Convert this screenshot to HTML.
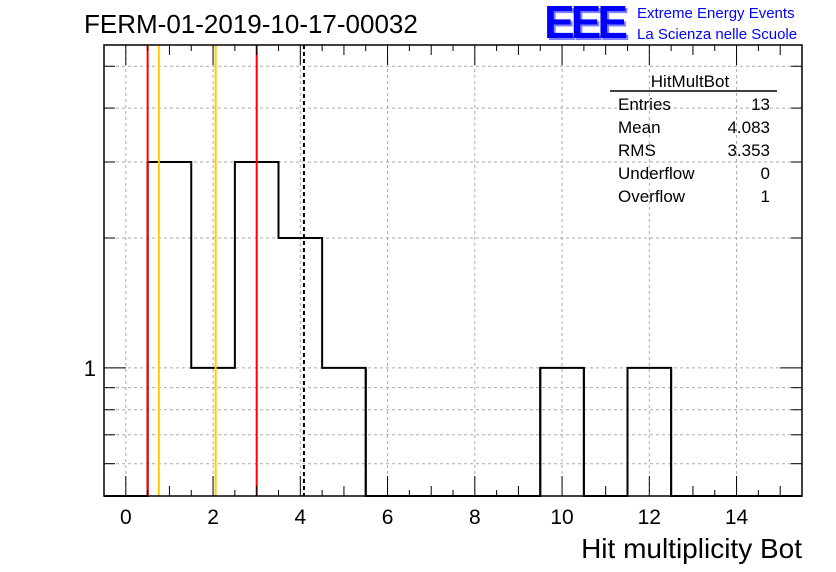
<!DOCTYPE html>
<html><head><meta charset="utf-8"><style>
body{margin:0;background:#fff;}
svg{display:block;font-family:"Liberation Sans",sans-serif;}
</style></head><body>
<svg width="836" height="572" viewBox="0 0 836 572">
<rect width="836" height="572" fill="#fff"/>
<text x="84" y="33" font-size="26">FERM-01-2019-10-17-00032</text>
<g>
<text x="546" y="40" font-size="46" font-weight="bold" fill="#8080ff" letter-spacing="-4">EEE</text>
<text x="544" y="38" font-size="46" font-weight="bold" fill="#0000ff" letter-spacing="-4">EEE</text>
<text x="637" y="18" font-size="15" fill="#0000ff">Extreme Energy Events</text>
<text x="637" y="39" font-size="15" fill="#0000ff">La Scienza nelle Scuole</text>
</g>
<g id="grid"></g>
<g id="marks"></g>
<g id="axes"></g>
<g font-size="17">
<text x="690" y="87" text-anchor="middle">HitMultBot</text>
<line x1="610" y1="91" x2="777" y2="91" stroke="#000" stroke-width="1.5"/>
<text x="618" y="110">Entries</text><text x="770" y="110" text-anchor="end">13</text>
<text x="618" y="133">Mean</text><text x="770" y="133" text-anchor="end">4.083</text>
<text x="618" y="156">RMS</text><text x="770" y="156" text-anchor="end">3.353</text>
<text x="618" y="179">Underflow</text><text x="770" y="179" text-anchor="end">0</text>
<text x="618" y="202">Overflow</text><text x="770" y="202" text-anchor="end">1</text>
</g>
<text x="802" y="558" font-size="28" text-anchor="end">Hit multiplicity Bot</text>
<script>
const binCenters=[0,1,2,3,4,5,6,7,8,9,10,11,12,13,14,15];
const counts=[0,3,1,3,2,1,0,0,0,0,1,0,1,0,0,0];
const xTicks=[0,2,4,6,8,10,12,14];
const redLines=[0.5,3.0];
const orangeLines=[0.757,2.06];
const meanLine=[4.083];
const L=104,R=802,T=45,B=496,xmin=-0.5,xmax=15.5,ymin=0.505,ymax=5.6;
const X=v=>L+(v-xmin)/(xmax-xmin)*(R-L);
const Y=v=>v<=ymin?B:B-(Math.log10(v)-Math.log10(ymin))/(Math.log10(ymax)-Math.log10(ymin))*(B-T);
const ns="http://www.w3.org/2000/svg";
function mk(p,t,a){const e=document.createElementNS(ns,t);for(const k in a)e.setAttribute(k,a[k]);p.appendChild(e);return e;}
const grid=document.getElementById('grid'),marks=document.getElementById('marks'),axes=document.getElementById('axes');
xTicks.forEach(v=>{const g=mk(grid,'line',{x1:X(v),x2:X(v),y1:T,y2:B,stroke:'#aaa','stroke-dasharray':'3,3'});
});
const yMinor=[0.6,0.7,0.8,0.9,1,2,3,4,5];
yMinor.forEach(v=>{const g=mk(grid,'line',{x1:L,x2:R,y1:Y(v),y2:Y(v),stroke:'#aaa','stroke-dasharray':'3,3'});
});
let d='';binCenters.forEach((c,i)=>{const y=Y(counts[i]);const x0=X(c-0.5),x1=X(c+0.5);
d+=(i==0?'M'+x0+','+y:'L'+x0+','+y)+'L'+x1+','+y;});
const h=mk(marks,'path',{d:d,fill:'none',stroke:'#000','stroke-width':2});

binCenters.forEach((c,i)=>{if(counts[i]>0&&(i==0||counts[i-1]==0)){const l=mk(marks,'line',{x1:X(c-0.5),x2:X(c-0.5),y1:B,y2:Y(counts[i]),stroke:'#000','stroke-width':2});}
if(counts[i]>0&&(i==counts.length-1||counts[i+1]==0)){const l=mk(marks,'line',{x1:X(c+0.5),x2:X(c+0.5),y1:B,y2:Y(counts[i]),stroke:'#000','stroke-width':2});}});
redLines.forEach(v=>{const l=mk(marks,'line',{x1:X(v),x2:X(v),y1:T,y2:B,stroke:'#f00','stroke-width':2});});
orangeLines.forEach(v=>{const l=mk(marks,'line',{x1:X(v),x2:X(v),y1:T,y2:B,stroke:'#fc0','stroke-width':2});});
meanLine.forEach(v=>{const l=mk(marks,'line',{x1:X(v),x2:X(v),y1:T,y2:B,stroke:'#000','stroke-width':2,'stroke-dasharray':'4,3'});});
const fr=mk(axes,'rect',{x:L,y:T,width:R-L,height:B-T,fill:'none',stroke:'#000','stroke-width':1.5});

for(let v=0;v<=15;v+=0.5){const major=v%2==0,len=major?20:(v%1==0?10:6);
mk(axes,'line',{x1:X(v),x2:X(v),y1:B,y2:B-len,stroke:'#000'});mk(axes,'line',{x1:X(v),x2:X(v),y1:T,y2:T+len,stroke:'#000'});}
xTicks.forEach(v=>{const t=mk(axes,'text',{x:X(v),y:524,'font-size':21,'text-anchor':'middle'});t.textContent=v;
});
yMinor.forEach(v=>{const len=v==1?22:11;mk(axes,'line',{x1:L,x2:L+len,y1:Y(v),y2:Y(v),stroke:'#000'});mk(axes,'line',{x1:R,x2:R-len,y1:Y(v),y2:Y(v),stroke:'#000'});});
const yl=mk(axes,'text',{x:96,y:Y(1)+8,'font-size':22,'text-anchor':'end'});yl.textContent='1';

</script>
</svg>
</body></html>
